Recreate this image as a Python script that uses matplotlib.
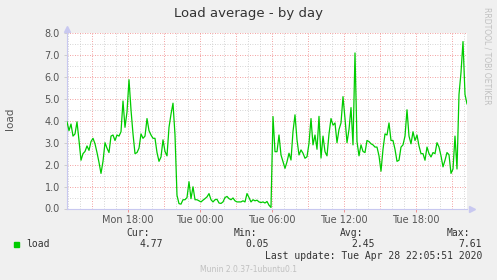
import numpy as np
import matplotlib
matplotlib.use("Agg")
import matplotlib.pyplot as plt
from matplotlib.ticker import MultipleLocator, FuncFormatter
from matplotlib.patches import Rectangle

# Load average samples every 10 minutes, starting Mon 12:55
load = [
    3.95, 3.55, 3.85, 3.3, 3.4, 3.95, 3.1, 2.2, 2.5, 2.6,
    2.85, 2.65, 3.05, 3.2, 2.95, 2.55, 2.1, 1.6, 2.15, 3.0,
    2.75, 2.55, 3.3, 3.35, 3.1, 3.35, 3.3, 3.5, 4.9, 3.7,
    4.4, 5.87, 4.5, 3.4, 2.5, 2.55, 2.75, 3.4, 3.2, 3.3,
    4.1, 3.55, 3.35, 3.2, 3.2, 2.55, 2.15, 2.35, 3.13, 2.6,
    # segment 2
    2.4, 3.7, 4.3, 4.8, 3.35, 0.6, 0.22, 0.2, 0.4, 0.4,
    0.5, 1.22, 0.45, 0.99, 0.4, 0.4, 0.35, 0.3, 0.38, 0.45,
    0.53, 0.68, 0.4, 0.3, 0.4, 0.42, 0.25, 0.23, 0.3, 0.5,
    0.55, 0.45, 0.4, 0.48, 0.35, 0.3, 0.3, 0.3, 0.35, 0.3,
    0.68, 0.5, 0.3, 0.4, 0.35, 0.38, 0.3, 0.27,
    # segment 3
    0.3, 0.25, 0.32, 0.15, 0.05, 4.19, 2.59, 2.59, 3.35, 2.44,
    2.13, 1.83, 2.13, 2.52, 2.21, 3.51, 4.27, 3.13, 2.44, 2.67,
    2.52, 2.29, 2.36, 2.97, 4.1, 2.9, 3.35, 2.7, 4.2, 2.3,
    3.3, 2.59, 2.4, 3.4, 4.1, 3.8, 3.9, 3.0, 3.6, 3.9,
    5.1, 4.1, 3.0, 3.6, 4.6, 2.9, 7.09, 3.05, 2.4, 2.9,
    # segment 4
    2.6, 2.55, 3.1, 3.05, 2.95, 2.9, 2.8, 2.8, 2.4, 1.7,
    2.7, 3.4, 3.35, 3.9, 3.1, 3.1, 2.7, 2.15, 2.2, 2.8,
    2.9, 3.3, 4.5, 3.3, 2.95, 3.5, 3.1, 3.35, 2.85, 2.5,
    2.5, 2.2, 2.8, 2.5, 2.35, 2.55, 2.5, 3.0, 2.8, 2.4,
    1.9, 2.2, 2.55, 2.45, 1.6, 1.8, 3.3, 1.8, 5.2, 6.2,
    7.61, 5.2, 4.77,
]
start_hour = 12 + 55 / 60      # hours since Mon 00:00
step_hours = 10 / 60

tick_hours = [18, 24, 30, 36, 42]
tick_labels = ["Mon 18:00", "Tue 00:00", "Tue 06:00", "Tue 12:00", "Tue 18:00"]
y_ticks = [0, 1, 2, 3, 4, 5, 6, 7, 8]
y_labels = ["0.0", "1.0", "2.0", "3.0", "4.0", "5.0", "6.0", "7.0", "8.0"]

series_name = "load"
stat_names = ["Cur:", "Min:", "Avg:", "Max:"]
stat_values = ["4.77", "0.05", "2.45", "7.61"]
last_update = "Last update: Tue Apr 28 22:05:51 2020"
title = "Load average - by day"

W, H = 497, 280
bg = "#F0F0F0"
txt = "#555555"
fig = plt.figure(figsize=(W / 100, H / 100), dpi=100, facecolor=bg)
ax = fig.add_axes([67 / W, 71.5 / H, 400 / W, 175.5 / H])
ax.set_facecolor("white")

t = start_hour + np.arange(len(load)) * step_hours
ax.set_xlim(t[0], t[-1])
ax.set_ylim(0, 8)

# grid lines
minor_style = dict(color="#C8C8C8", linewidth=0.6, linestyle=(0, (1, 2)))
major_style = dict(color="#F08080", linewidth=0.6, linestyle=(0, (1, 2)))
for h in np.arange(13, 47, 1):
    if h % 3 != 0:
        ax.axvline(h, zorder=1, **minor_style)
for h in np.arange(15, 47, 3):
    ax.axvline(h, zorder=1, **major_style)
for v in np.arange(0.5, 8.0, 1.0):
    ax.axhline(v, zorder=1, **minor_style)
for v in y_ticks[1:]:
    ax.axhline(v, zorder=1, **major_style)

ax.plot(t, load, color="#00CC00", linewidth=0.9, zorder=3)

# axes / ticks
ax.set_xticks(tick_hours)
ax.set_xticklabels(tick_labels)
ax.set_yticks(y_ticks)
ax.set_yticklabels(y_labels)
ax.tick_params(axis="both", labelsize=7, colors=txt, length=2, width=0.6)
ax.tick_params(axis="x", pad=3, color="#F08080")
ax.tick_params(axis="y", pad=3, color="#C8C8C8")
for s in ["top", "right"]:
    ax.spines[s].set_visible(False)
for s in ["left", "bottom"]:
    ax.spines[s].set_color("#C8C8F0")
    ax.spines[s].set_linewidth(0.8)
ax.plot([1.012], [0], marker=">", markersize=4, color="#C8C8F0",
        transform=ax.transAxes, clip_on=False)
ax.plot([0], [1.02], marker="^", markersize=4, color="#C8C8F0",
        transform=ax.transAxes, clip_on=False)

# texts
fig.text(0.5, 1 - 13 / H, title, ha="center", va="center", fontsize=9.5, color="#333333")
fig.text(10 / W, 1 - 119 / H, "load", rotation=90, ha="center", va="center",
         fontsize=7.5, color=txt)
fig.text(487 / W, 1 - 56 / H, "RRDTOOL / TOBI OETIKER", rotation=270, ha="center",
         va="center", fontsize=5.5, color="#C0C0C0")

mono = dict(family="DejaVu Sans Mono", fontsize=7, color="#333333")
fig.add_artist(Rectangle((14 / W, 1 - 247 / H), 5 / W, 5 / H,
                         transform=fig.transFigure, color="#00CC00"))
fig.text(26 / W, 1 - 244 / H, series_name, ha="left", va="center", **mono)
name_right = [150, 257, 363, 470]
val_right = [163, 269, 375, 482]
for nm, vv, xr1, xr2 in zip(stat_names, stat_values, name_right, val_right):
    fig.text(xr1 / W, 1 - 233 / H, nm, ha="right", va="center", **mono)
    fig.text(xr2 / W, 1 - 244 / H, vv, ha="right", va="center", **mono)
fig.text(482 / W, 1 - 256 / H, last_update, ha="right", va="center", **mono)
fig.text(248 / W, 1 - 269 / H, "Munin 2.0.37-1ubuntu0.1", ha="center", va="center",
         fontsize=5.5, color="#C0C0C0")

fig.savefig("out.png", dpi=100, facecolor=bg)
